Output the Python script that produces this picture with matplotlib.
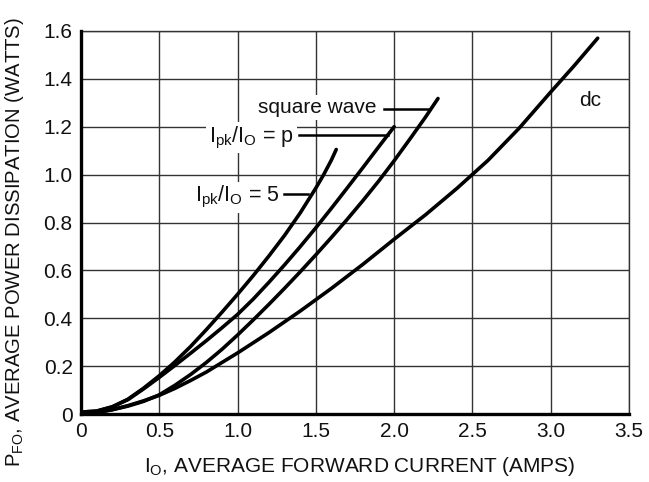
import matplotlib
matplotlib.use('Agg')
import matplotlib.pyplot as plt

plt.rcParams['font.family'] = ['Liberation Sans', 'DejaVu Sans']
plt.rcParams['mathtext.fontset'] = 'custom'
plt.rcParams['mathtext.rm'] = 'Liberation Sans'
plt.rcParams['mathtext.it'] = 'Liberation Sans'

# curves (IO in amps, PFO in watts)
x_r5 = [0, 0.1, 0.2, 0.3, 0.4, 0.5, 0.6, 0.7, 0.8, 0.9, 1.0, 1.1, 1.2, 1.3, 1.4, 1.5, 1.55, 1.6, 1.63]
y_r5 = [0.008, 0.012, 0.03, 0.062, 0.108, 0.16, 0.218, 0.282, 0.352, 0.425, 0.5, 0.578, 0.66, 0.746,
        0.84, 0.944, 1.0, 1.062, 1.105]

x_pi = [0, 0.1, 0.2, 0.3, 0.4, 0.5, 0.6, 0.7, 0.8, 0.9, 1.0, 1.1, 1.2, 1.3, 1.4, 1.5, 1.6, 1.7, 1.8, 1.9, 2.0]
y_pi = [0.008, 0.012, 0.03, 0.06, 0.105, 0.153, 0.203, 0.254, 0.306, 0.36, 0.416, 0.48, 0.55, 0.623,
        0.699, 0.778, 0.86, 0.944, 1.029, 1.115, 1.2]

x_sq = [0, 0.1, 0.2, 0.3, 0.4, 0.5, 0.6, 0.7, 0.8, 0.9, 1.0, 1.1, 1.2, 1.3, 1.4, 1.5, 1.6, 1.7, 1.8, 1.9,
        2.0, 2.1, 2.2, 2.28]
y_sq = [0.004, 0.008, 0.018, 0.033, 0.053, 0.08, 0.12, 0.165, 0.215, 0.27, 0.33, 0.393, 0.458, 0.525,
        0.594, 0.665, 0.738, 0.813, 0.891, 0.972, 1.058, 1.148, 1.24, 1.318]

x_dc = [0, 0.1, 0.2, 0.3, 0.4, 0.5, 0.6, 0.7, 0.8, 0.9, 1.0, 1.2, 1.4, 1.6, 1.8, 2.0, 2.2, 2.4, 2.6,
        2.8, 3.0, 3.15, 3.3]
y_dc = [0.0, 0.005, 0.018, 0.035, 0.055, 0.078, 0.107, 0.14, 0.175, 0.215, 0.255, 0.34, 0.43, 0.525,
        0.625, 0.73, 0.832, 0.942, 1.06, 1.195, 1.345, 1.455, 1.57]

xticks = [0, 0.5, 1.0, 1.5, 2.0, 2.5, 3.0, 3.5]
xlabels = ['0', '0.5', '1.0', '1.5', '2.0', '2.5', '3.0', '3.5']
yticks = [0, 0.2, 0.4, 0.6, 0.8, 1.0, 1.2, 1.4, 1.6]
ylabels = ['0', '0.2', '0.4', '0.6', '0.8', '1.0', '1.2', '1.4', '1.6']

fig = plt.figure(figsize=(6.49, 4.82), dpi=100)
ax = fig.add_axes([81/649, 1-414/482, 548/649, 383/482])

for xs, ys in [(x_r5, y_r5), (x_pi, y_pi), (x_sq, y_sq), (x_dc, y_dc)]:
    ax.plot(xs, ys, color='black', lw=2.6, solid_capstyle='round', solid_joinstyle='round', zorder=3)

ax.set_xlim(0, 3.5)
ax.set_ylim(0, 1.6)
ax.set_xticks(xticks)
ax.set_xticklabels(xlabels)
ax.set_yticks(yticks)
ax.set_yticklabels(ylabels)
ax.tick_params(length=0, labelsize=15, labelcolor='#111111')
ax.tick_params(axis='y', pad=6)
ax.tick_params(axis='x', pad=6)
ax.grid(True, color='#333333', lw=1.0)
ax.set_axisbelow(True)

for s in ['top', 'right']:
    ax.spines[s].set_linewidth(1.0)
    ax.spines[s].set_color('#333333')
for s in ['left', 'bottom']:
    ax.spines[s].set_linewidth(2.4)
    ax.spines[s].set_zorder(4)

ax.set_xlabel(r'I$_{\mathrm{O}}$, AVERAGE FORWARD CURRENT (AMPS)', fontsize=15, color='#111111')
ax.set_ylabel(r'P$_{\mathrm{FO}}$, AVERAGE POWER DISSIPATION (WATTS)', fontsize=14.6, color='#111111')
ax.xaxis.set_label_coords(0.509, -0.138, transform=ax.transAxes)
ax.yaxis.set_label_coords(-0.122, 0.45, transform=ax.transAxes)
ax.xaxis.label.set_va('center')
ax.yaxis.label.set_va('center')

box = dict(facecolor='white', edgecolor='none', pad=2)

# annotations with leader lines
ax.text(1.89, 1.28, 'square wave', fontsize=15, ha='right', va='center', bbox=box, zorder=2, color='#111111')
ax.plot([1.935, 2.23], [1.276, 1.276], color='black', lw=1.8, zorder=3)

ax.text(1.36, 1.155, r'I$_{\mathrm{pk}}$/I$_{\mathrm{O}}$ = p', fontsize=15.5, ha='right', va='center', bbox=box, zorder=2, color='#111111')
ax.plot([1.39, 1.96], [1.167, 1.167], color='black', lw=1.8, zorder=3)

ax.text(1.27, 0.905, r'I$_{\mathrm{pk}}$/I$_{\mathrm{O}}$ = 5', fontsize=15.5, ha='right', va='center', bbox=box, zorder=2, color='#111111')
ax.plot([1.297, 1.45], [0.92, 0.92], color='black', lw=1.8, zorder=3)

ax.text(3.25, 1.31, 'dc', fontsize=15, ha='center', va='center', color='#111111')

fig.savefig('out.png', dpi=100)
